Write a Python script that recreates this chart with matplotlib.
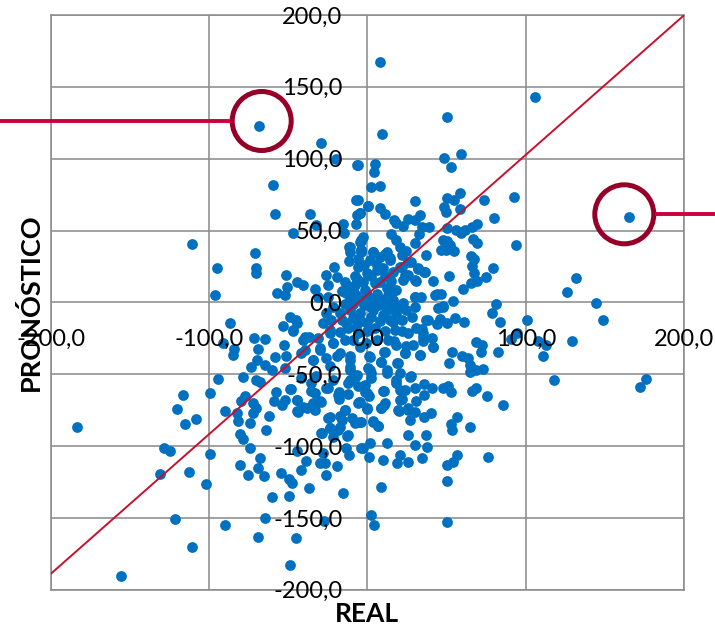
import numpy as np
import matplotlib
matplotlib.use('Agg')
import matplotlib.pyplot as plt
from matplotlib.patches import Circle

# (real, pronostico), por zonas
arriba_izq = [(-68.6, 122.7), (-29.5, 111.1), (-20, 99.5), (-6.5, 95.6), (-59.4, 81.4), (-58.1, 61.5),
              (-36.2, 61.5), (-7.2, 71.2), (-46.9, 48.3), (-32.2, 53.8), (-15.2, 54.5), (-14.9, 48),
              (-6.5, 60.8), (-7.4, 54.5), (-110.9, 40.8), (-70.9, 34.6), (-94.7, 23.7), (-70.7, 23.7),
              (-70.7, 20.6), (-96.4, 5.3), (-51.2, 19), (-44.8, 14.4), (-40.8, 12), (-50.7, 10.9),
              (-57, 6.3), (-52.2, 5.3), (-33, 9.5), (-21.3, 24.8), (-25.9, 19), (-19.2, 17.4),
              (-24.8, 12), (-11.8, 28.5), (-11.2, 38.7), (-11.2, 35.3), (-4.8, 42.2), (-4.4, 35.3),
              (-12.2, 11.4), (-8, 18.3), (-24.8, 3.9), (-31.2, 3.9), (-13.3, 6.3), (-9, 8.6)]
arriba_der = [(8, 167.3), (105.9, 142.7), (50.3, 129.2), (9.3, 116.9), (165.3, 59.4), (48.4, 100.7),
              (58.9, 103.2), (52.4, 94), (-5.9, 95.6), (4.6, 96.3), (3.8, 90.5), (1.9, 80.5),
              (8.2, 80.7), (-6.3, 71.2), (29.9, 70.5), (73.7, 71.5), (92.6, 73.1), (58.1, 75.9),
              (50.3, 72.4), (54.3, 71.2), (48.4, 66.6), (49.3, 63.1), (58.1, 65.2), (79.8, 58.9),
              (33.1, 60.8), (0.4, 66.8), (7.8, 65.9), (11, 61.3), (-4.8, 61.9), (16.8, 57.3),
              (18.3, 55.5), (22.5, 53.1), (25.3, 58), (29.9, 57.3), (34.1, 52.2), (32.4, 47.6),
              (38.7, 52.7), (50.1, 51.5), (55.8, 50.3), (58.9, 48), (61.5, 50.3), (65.7, 52.2),
              (69.1, 54.3), (14.7, 47.6), (17.7, 43.4), (20.4, 38.7), (29.9, 41.5), (49.9, 42.9),
              (66.7, 44.1), (69.3, 41.1), (93.9, 39.9), (52, 39.9), (49.3, 36.4), (54.3, 36),
              (24.6, 36), (36.8, 32.9), (65.3, 32.5), (67.4, 29.9), (65.7, 25.5), (79.4, 23.9),
              (67.4, 20.2), (74.7, 17.4), (51.4, 18.6), (69.3, 14.8), (65.1, 13.2), (41.3, 14.6),
              (60, 9.3), (131.8, 17.2), (125.9, 7), (144.4, -0.7), (81, -0.9), (54.1, 1.2),
              (46.3, 5.8), (42.9, 4.9), (29.9, 3.9), (33.5, 3.9), (32, 23), (35.6, 21.3),
              (30.5, 14.8), (27.4, 28.3), (21.5, 32.9), (11, 34), (3.6, 35.3), (14.1, 30.6),
              (21.5, 24.8), (25.7, 19), (22.5, 15.5), (16.2, 8.1), (-2.7, 45.7), (-4.2, 36.4),
              (-3.8, 42.9), (47.8, -2.6), (44.2, -4.2), (78.7, -7.2)]
abajo_der = [(148.4, -12.5), (100.8, -12.3), (83.6, -13.9), (129.1, -27.1), (94.5, -21.3), (90.9, -25.5),
             (107.4, -27.1), (112.4, -29.5), (110.9, -37.1), (117.5, -53.8), (175.8, -53.1), (172, -58.9),
             (68.2, -27.8), (72.4, -29.5), (71.4, -34.8), (82.1, -34.6), (53.5, -34.8), (59.4, -37.6),
             (63.6, -38.8), (64.6, -43.4), (51.2, -42.2), (73.1, -46.2), (68.8, -46.9), (64.6, -48.7),
             (41.3, -31.1), (33.1, -36.4), (23.6, -35.3), (16.8, -27.1), (24, -30.2), (35.2, -27.1),
             (40.8, -24.8), (34.1, -18.6), (37.9, -12.5), (45.7, -11.6), (49.9, -14.4), (55.1, -10.9),
             (61.1, -13.9), (25.7, -21.3), (17.3, -19), (10.5, -34.8), (0.8, -37.1), (8.8, -41.8),
             (18.9, -42.2), (27.4, -51.5), (20.4, -49.2), (12, -49.2), (1.5, -46.9), (2.5, -52.7),
             (-7, -51.5), (10.3, -61.5), (-1.7, -62.6), (0.8, -64.9), (18.3, -56.1), (23.6, -60.8),
             (29.9, -59.6), (35.6, -56.8), (40.8, -59.9), (35.8, -64.3), (47.8, -59.6), (50.9, -58),
             (52.6, -62.2), (66.1, -61.5), (68.8, -59.6), (75.6, -65), (85.7, -71.5), (21.5, -67.3),
             (30.5, -68.7), (10.5, -71.2), (8.8, -73.6), (-5.3, -69.6), (-0.2, -74), (20, -75.4),
             (25.7, -74.7), (29.9, -76.1), (40, -77), (35.4, -79.8), (26.7, -82.1), (56.6, -80),
             (52.4, -84.5), (53.5, -89.1), (64.6, -87), (3.6, -82.8), (6.7, -85.8), (-4.8, -83.3),
             (25.7, -92.1), (36.8, -92.6), (12.4, -98.2), (29.9, -99.1), (37.7, -100.9), (1.5, -98.2),
             (-2.7, -101.6), (0.8, -107.4), (9.9, -109.5), (20.8, -106.1), (18.9, -111.8), (25.7, -110.9),
             (34.5, -108.4), (56.6, -106.5), (54.1, -111.1), (50.5, -113.2), (76, -107.9), (49.9, -124.6),
             (8.4, -128.8), (1.9, -147.8), (4.2, -154.8), (50.3, -152.7)]
abajo_izq = [(-183.4, -86.5), (-86.9, -14.4), (-91.2, -28.3), (-84.2, -32.5), (-84.8, -36.4), (-71.6, -25.1),
             (-64.4, -25.5), (-69.1, -32.3), (-53.3, -16.7), (-52.6, -29.9), (-58.5, -38.1), (-51.2, -37.6),
             (-69.7, -39.9), (-73.3, -45), (-64.8, -43.4), (-60.6, -47.3), (-52.2, -45.7), (-94.1, -53.1),
             (-78.9, -52.2), (-70.5, -53.8), (-67.6, -55.5), (-41.7, -52.7), (-41.7, -35.3), (-34.3, -39.9),
             (-44.8, -14.4), (-40.6, -26), (-37, -24.4), (-46.9, -20.2), (-99.6, -62.9), (-116.2, -64.5),
             (-120.2, -74.2), (-108, -81), (-114.9, -84.7), (-77.3, -65.4), (-79.6, -68.9), (-72.2, -70.1),
             (-70.5, -73.6), (-72.2, -77), (-74.3, -84), (-89.7, -75.9), (-82.3, -77), (-81.7, -82.8),
             (-62.3, -78.9), (-64.2, -89.1), (-80.2, -91.4), (-78.5, -95.1), (-73.9, -101.2), (-99.2, -105.8),
             (-128.4, -101.2), (-124.8, -103.2), (-131.2, -119.3), (-112.8, -117.9), (-101.9, -126.4),
             (-121.5, -151), (-89.9, -155), (-110.5, -170.3), (-155.4, -190.7), (-69.1, -163), (-45.3, -164.3),
             (-64.8, -150.1), (-27.6, -152.4), (-49.1, -183), (-80.6, -113.5), (-75.4, -120.2), (-67.6, -108.1),
             (-69.1, -115.3), (-65.3, -120.6), (-54.7, -118.8), (-49.5, -123), (-47.4, -125.8), (-60.2, -135.3),
             (-49.3, -134.6), (-37.1, -129), (-15.6, -133), (-41.7, -116.5), (-39, -110.7), (-44.8, -103.2),
             (-30.1, -111.8), (-26.9, -111.8), (-28, -104.9), (-19.2, -113.7), (-25.9, -120), (-13.3, -101.4),
             (-11.6, -106), (-3.8, -101.4), (-28.6, -91), (-12.8, -92.8), (-23.8, -87.5), (-18.5, -88.6),
             (-8, -84), (-13.9, -74.7), (-17.5, -79.4), (-24.8, -80.5), (-44.4, -75.9), (-38.5, -73.6),
             (-33.3, -74.7), (-57.5, -62.7), (-59.2, -68.9), (-53.7, -71.2), (-49.1, -60.3), (-52.2, -68.2),
             (-44.4, -68.2), (-35.4, -62), (-30.1, -68.9), (-24.8, -59.6), (-17.9, -62.7), (-18.3, -67.3),
             (-12.2, -64), (-5.9, -70.1), (-35.4, -56.2), (-32.2, -51.5), (-21.5, -53.8), (-11.2, -46.9),
             (-5.9, -58.5), (-11.2, -53.8), (-23.8, -44.5), (-19.5, -37.6), (-30.1, -33), (-21.5, -28.3),
             (-23.8, -19), (-13.3, -14.4), (-9, -26), (-11.2, -37.6)]
centro = [(-11.6, 38.7), (-3.8, 36.4), (-3.8, 43.4), (0.4, 67), (-4.9, 61.9), (3.6, 35), (12, 35), (7.8, 31.8),
          (14.1, 29.4), (16.2, 21.3), (18.3, 8.6), (1.5, 29.4), (-5.9, 24.8), (-0.6, 20.2), (-6.9, 16.4),
          (-9, 8.6), (-11.2, 3.9), (5.7, 22.6), (11, 18), (12, 10.2), (4.7, 13.2), (-1.7, 8.6), (-4.9, 1.6),
          (3.6, 1.6), (9.9, 1.6), (16.2, 1.6), (22.5, -0.7), (29.9, -3), (29.9, 3.9), (43.6, 6), (47.8, -3),
          (20.4, 24.8), (23.6, 19), (30, 15.5), (32, 23.6), (36.2, 21.3), (25.7, 28.3), (46.3, 36.6),
          (47.4, 43.4), (-11.2, -5.2), (-4.9, -7.5), (3.6, -5.2), (12, -5.2), (18.3, -7.5), (24.6, -5.2),
          (-0.6, -14.4), (7.8, -13.3), (14.1, -12.2), (-17.5, -7.5), (-21.7, -3), (-26, -7.5), (-28, -14.4),
          (-22.8, -12.2), (-45, -12), (-49.2, -10), (-47, -19), (-39.7, -24), (-31.3, -25), (-23.9, -21.6),
          (-17.5, -20.4), (-12.3, -18), (-6, -21.6), (30.9, -18), (37.2, -12), (43.6, -15), (35.2, -21),
          (-21.7, -28.6), (-30.1, -32), (-39.6, -33.2), (-34.3, -40), (-25.9, -39), (-17.5, -35.5),
          (-11.2, -40.2), (-11.2, -44.8), (-4.8, -31), (1.5, -37.9), (10.9, -34.4), (18.3, -29.7), (23.6, -35.5),
          (28.8, -29.7), (35.2, -24), (41.5, -30.9), (33.1, -36.7), (8.8, -41.3), (12, -47.1), (19.4, -42.5),
          (0.4, -46), (2.5, -49.5), (-6.9, -50.6), (-12.2, -56.4), (-18.5, -64.5), (-25.9, -59.9), (-33.3, -63.4),
          (-29.1, -69.2), (-34.3, -70.3), (-40.6, -72.7), (-43.8, -76.1), (-48, -60), (-44.8, -68), (-0.6, -63.4),
          (-1.7, -57.6), (-4.8, -69.2), (-0.2, -73.8), (-14.3, -75), (-23.8, -80), (-16.4, -82), (-10.1, -80.8),
          (-3.8, -83.1), (-17.5, -86.6), (-23.8, -87.8), (-29.1, -91.2), (-12.2, -92.4), (-21.7, -93.5),
          (3.6, -83.1), (6.7, -86.1), (10.9, -70.3), (8.8, -73.8), (20.4, -68), (19.4, -75), (25.7, -73.8),
          (9.9, -61.8), (20.4, -61), (18.3, -54.1), (26.7, -51.8), (-6, 30), (-2, 26), (6, 26), (10, 24),
          (-14, 14), (-16, 8), (-8, 12), (-3, 14), (2, 18), (8, 14), (15, 15), (-7, 5), (0, 5), (6, 6), (13, 5),
          (-14, -1), (-9, -1), (-2, -2), (2, -3), (7, -2), (14, -2), (20, -3), (-16, -12), (-9, -11), (-4, -13),
          (2, -10), (10, -9), (16, -14), (22, -12), (28, -10), (-14, -26), (-7, -17), (0, -20), (5, -18),
          (11, -20), (22, -20), (-1, -28), (6, -26), (13, -26)]

limite = 200
ticks_real = [-200, -100, 0, 100, 200]
ticks_pron = [-200, -150, -100, -50, 0, 50, 100, 150, 200]
linea_real = [-200, 200]
linea_pron = [-189, 200]

plt.rcParams['font.family'] = ['Lato', 'DejaVu Sans']

W, H = 715, 626
fig = plt.figure(figsize=(W / 100, H / 100), dpi=100)
caja = [50.7 / W, 1 - 589.7 / H, (684.3 - 50.7) / W, (589.7 - 15) / H]

ax = fig.add_axes(caja)
ax.set_xlim(-limite, limite)
ax.set_ylim(-limite, limite)
ax.set_xticks(ticks_real)
ax.set_yticks(ticks_pron)
ax.tick_params(length=0, labelleft=False, labelbottom=False)
ax.grid(True, color='#8c8c8c', linewidth=1.15)
ax.set_axisbelow(True)
for s in ax.spines.values():
    s.set_color('#8c8c8c')
    s.set_linewidth(1.15)

puntos = np.array(arriba_izq + arriba_der + abajo_der + abajo_izq + centro)
ax.scatter(puntos[:, 0], puntos[:, 1], s=60, color='#0070c0', linewidths=0, zorder=3)
ax.plot(linea_real, linea_pron, color='#c8102e', linewidth=1.4, zorder=4)

# etiquetas encima de los puntos, en los ejes que cruzan en cero
ax2 = fig.add_axes(caja, facecolor='none')
ax2.set_xlim(-limite, limite)
ax2.set_ylim(-limite, limite)
ax2.set_xticks(ticks_real)
ax2.set_yticks(ticks_pron)
ax2.set_xticklabels([f'{v:.1f}'.replace('.', ',') for v in ticks_real])
ax2.set_yticklabels([f'{v:.1f}'.replace('.', ',') for v in ticks_pron])
ax2.spines['left'].set_position('zero')
ax2.spines['bottom'].set_position('zero')
for s in ax2.spines.values():
    s.set_visible(False)
ax2.tick_params(axis='x', length=0, pad=19, labelsize=17, labelcolor='black')
ax2.tick_params(axis='y', length=0, pad=18, labelsize=17, labelcolor='black')

# rotulos y llamadas en pixeles de la figura
capa = fig.add_axes([0, 0, 1, 1], facecolor='none')
capa.set_xlim(0, W)
capa.set_ylim(H, 0)
capa.axis('off')
capa.text(30, 302, 'PRONÓSTICO', rotation=90, ha='center', va='center', fontsize=19.5, fontweight='bold')
capa.text(367, 614, 'REAL', ha='center', va='center', fontsize=19, fontweight='bold')
capa.plot([0, 231], [121, 121], color='#c8003c', linewidth=2.8, solid_capstyle='butt')
capa.plot([655, 715], [214.3, 214.3], color='#c8003c', linewidth=2.8, solid_capstyle='butt')
capa.add_patch(Circle((261.7, 121), 29.5, fill=False, edgecolor='#960028', linewidth=3.6))
capa.add_patch(Circle((624.3, 214.3), 29.5, fill=False, edgecolor='#960028', linewidth=3.6))

fig.savefig('out.png', dpi=100)
